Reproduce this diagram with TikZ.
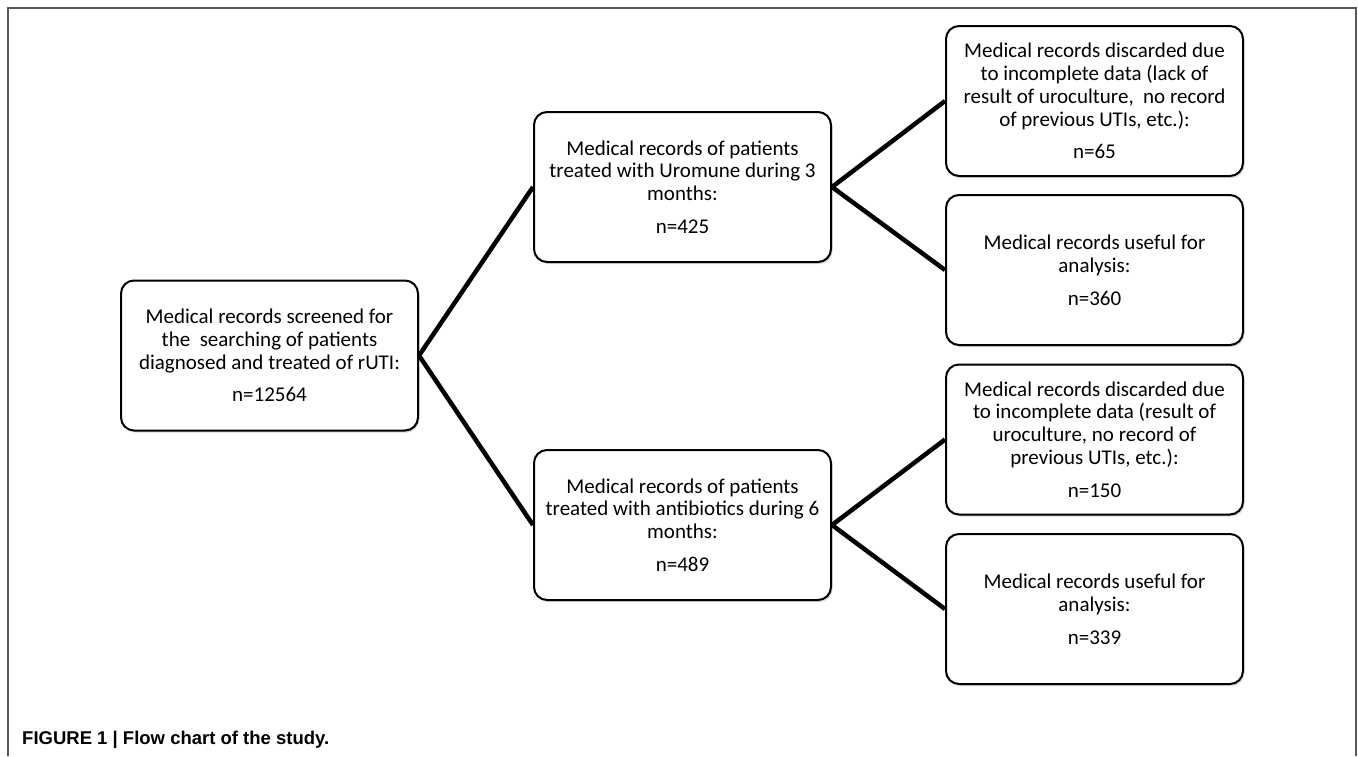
\documentclass[tikz,border=0pt]{standalone}
\usepackage{fontspec}
\setmainfont{Carlito}
\newfontfamily\capfont{Liberation Sans}
\usetikzlibrary{shadows}
\begin{document}
\begin{tikzpicture}[x=1pt,y=-1pt,
  box/.style={draw=black, line width=2pt, rounded corners=13pt, fill=white,
    minimum width=297pt, minimum height=150pt, inner sep=0pt, align=center,
    font=\fontsize{21}{22.8}\selectfont,
    drop shadow={shadow xshift=1.5pt, shadow yshift=-2pt, opacity=0.3, fill=gray}},
  link/.style={line width=4.5pt, line join=round},
  frame/.style={draw=black!65, line width=1.3pt}
]
\useasboundingbox (0,0) rectangle (1358,756);
\draw[frame] (8,756) -- (8,8) -- (1356,8) -- (1356,756);

\node[box] (root) at (269.5,355.5) {Medical records screened for\\ the~ searching of patients\\ diagnosed and treated of rUTI:\\[10pt] n=12564};
\node[box] (uro) at (682.5,187) {Medical records of patients\\ treated with Uromune during 3\\ months:\\[10pt] n=425};
\node[box] (anti) at (682.5,525) {Medical records of patients\\ treated with antibiotics during 6\\ months:\\[10pt] n=489};
\node[box] (d1) at (1094.5,101) {Medical records discarded due\\ to incomplete data (lack of\\ result of uroculture,~ no record\\ of previous UTIs, etc.):\\[10pt] n=65};
\node[box] (u1) at (1094.5,270) {Medical records useful for\\ analysis:\\[10pt] n=360};
\node[box] (d2) at (1094.5,439.5) {Medical records discarded due\\ to incomplete data (result of\\ uroculture, no record of\\ previous UTIs, etc.):\\[10pt] n=150};
\node[box] (u2) at (1094.5,609) {Medical records useful for\\ analysis:\\[10pt] n=339};

\draw[link] (uro.west) -- (root.east) -- (anti.west);
\draw[link] (d1.west) -- (uro.east) -- (u1.west);
\draw[link] (d2.west) -- (anti.east) -- (u2.west);

\node[anchor=base west, inner sep=0pt, font=\capfont\bfseries\fontsize{18.5}{20}\selectfont] (cap) at (22,744.5) {FIGURE 1 | Flow chart of the study.};
\end{tikzpicture}
\end{document}
